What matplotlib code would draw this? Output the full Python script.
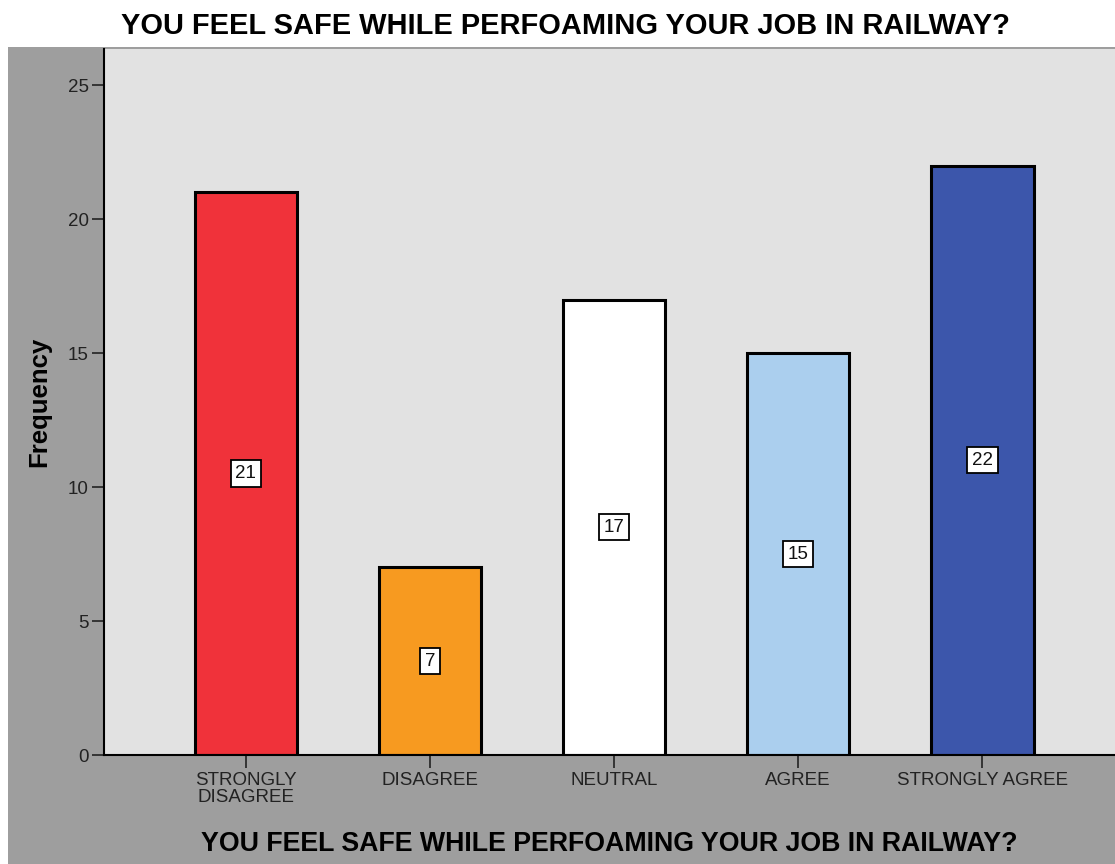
import matplotlib.pyplot as plt
from matplotlib.patches import Rectangle

plt.rcParams['font.family'] = ['Liberation Sans', 'DejaVu Sans']

categories = ['STRONGLY\nDISAGREE', 'DISAGREE', 'NEUTRAL', 'AGREE', 'STRONGLY AGREE']
frequency = [21, 7, 17, 15, 22]
bar_colors = ['#f0323a', '#f79a20', '#ffffff', '#abcfee', '#3c56ab']
title = 'YOU FEEL SAFE WHILE PERFOAMING YOUR JOB IN RAILWAY?'

W, H = 1115, 864
fig = plt.figure(figsize=(W / 100, H / 100), dpi=100, facecolor='white')

# grey outer frame
fig.patches.append(Rectangle((8 / W, 0), 1 - 8 / W, (H - 47) / H, transform=fig.transFigure,
                             facecolor='#9e9e9e', edgecolor='none', zorder=-1))

ax = fig.add_axes([104 / W, (H - 755) / H, (W - 104) / W, (755 - 49) / H])
ax.set_zorder(1)
ax.set_facecolor('#e2e2e2')

x = list(range(len(categories)))
ax.bar(x, frequency, width=0.555, color=bar_colors, edgecolor='black', linewidth=2.2, zorder=2)

for xi, v in zip(x, frequency):
    ax.text(xi, v / 2, str(v), ha='center', va='center', fontsize=13.5, color='#111111', zorder=3,
            bbox=dict(boxstyle='square,pad=0.25', facecolor='white', edgecolor='black', linewidth=1.3))

ax.set_xlim(-0.77, 4.72)
ax.set_ylim(0, 26.35)
ax.set_yticks([0, 5, 10, 15, 20, 25])
ax.set_xticks(x)
ax.set_xticklabels(categories, fontsize=13.5, linespacing=1.0)
ax.tick_params(axis='y', labelsize=13.5, length=9, width=1.2, colors='#222222', pad=2)
ax.tick_params(axis='x', length=9, width=1.2, colors='#222222', pad=3)

for s in ['top', 'right']:
    ax.spines[s].set_visible(False)
ax.spines['left'].set_linewidth(1.5)
ax.spines['bottom'].set_linewidth(1.5)

ax.set_ylabel('Frequency', fontsize=18.5, fontweight='bold', labelpad=12)
ax.set_xlabel(title, fontsize=19.3, fontweight='bold', labelpad=18)
fig.text(565 / W, 1 - 26 / H, title, ha='center', va='center', fontsize=20.9, fontweight='bold')

fig.savefig('out.png', dpi=100, facecolor='white')
